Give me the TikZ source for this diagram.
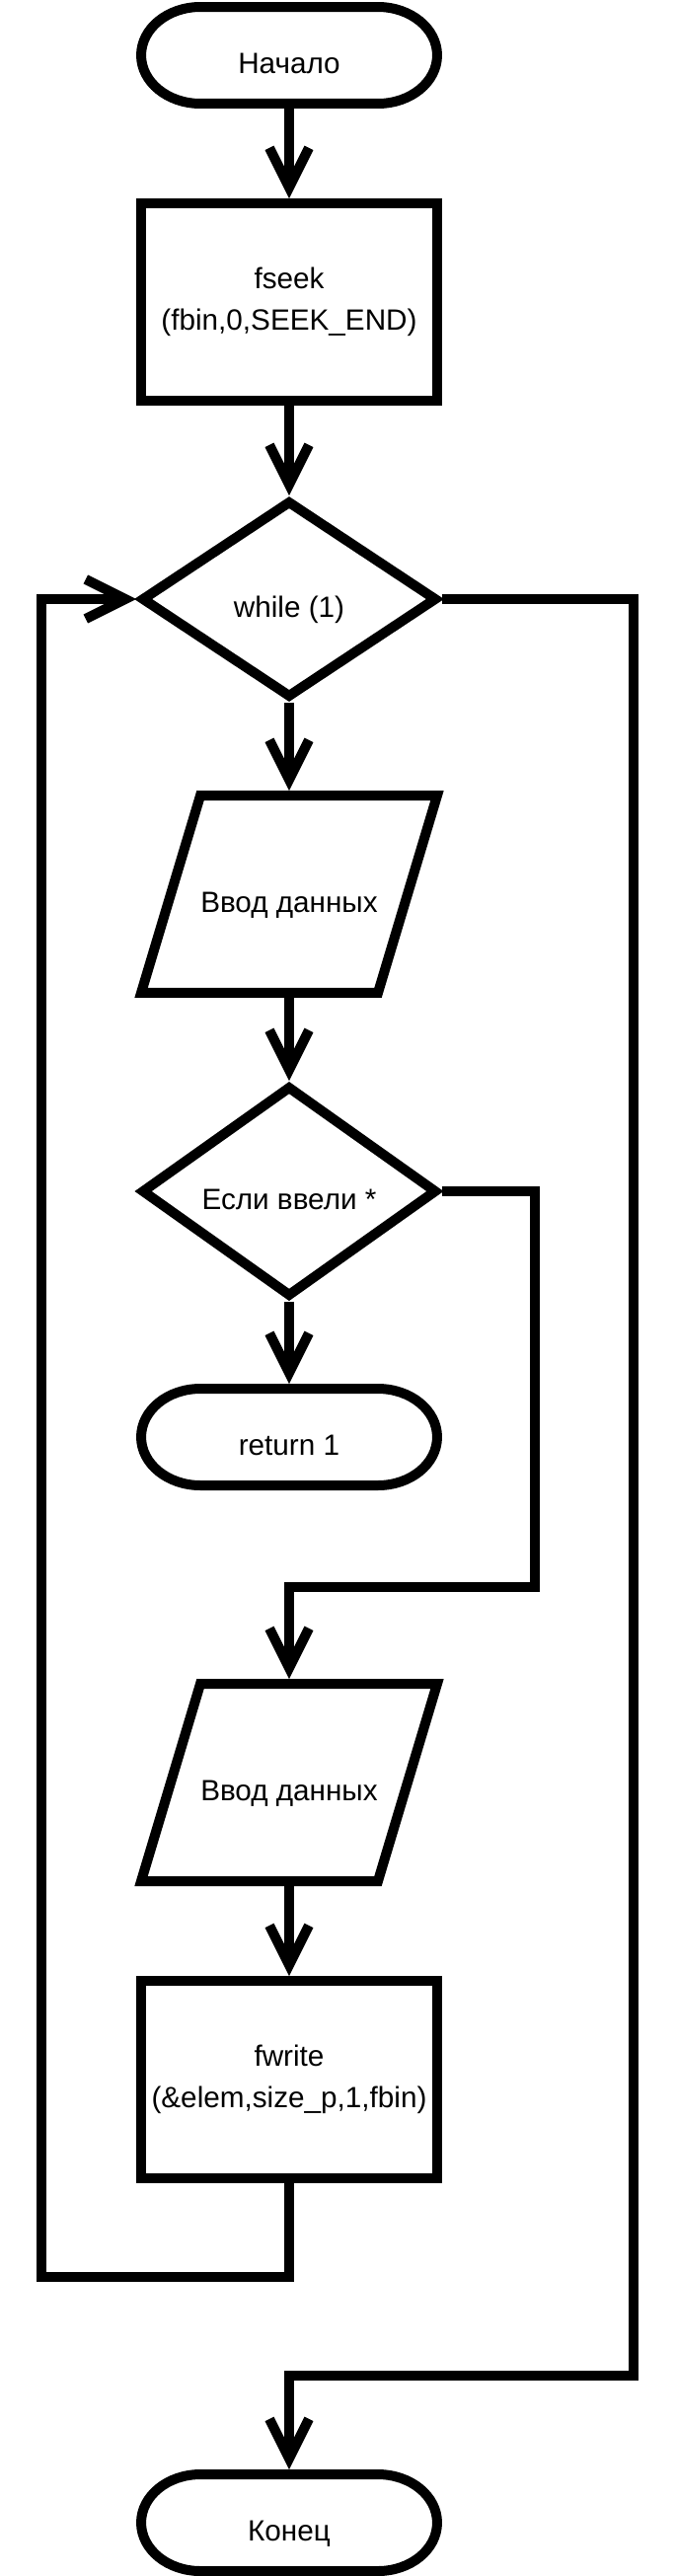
\documentclass[tikz,border=0pt]{standalone}
\usepackage{fontspec}
\setmainfont{Liberation Sans}
\usetikzlibrary{arrows.meta, shapes.geometric, positioning, calc}

\tikzset{
    blk/.style={draw, line width=0.2cm, minimum width=6cm, minimum height=4cm, inner sep=0pt,
        align=center, font=\fontsize{16.9pt}{24pt}\selectfont},
    oneline/.style={text height=0.74cm, text depth=0cm},
    procbox/.style={blk, rectangle},
    condbox/.style={blk, diamond, oneline},
    iobox/.style={blk, draw=none, outer sep=0.1cm, oneline},
    termbox/.style={blk, draw=none, outer sep=0.1cm, minimum height=1.96cm, oneline},
    flow/.style={line width=0.2cm, -{Straight Barb[length=0.8cm,width=0.8cm]}},
    wire/.style={line width=0.2cm}
}

% oval outline round a termbox node
\newcommand{\termline}[1]{%
    \draw[wire] ($(#1.north west)+(1.3cm,-0.1cm)$) -- ($(#1.north east)+(-1.3cm,-0.1cm)$)
        arc[start angle=90, end angle=-90, x radius=1.2cm, y radius=0.98cm]
        -- ($(#1.south west)+(1.3cm,0.1cm)$)
        arc[start angle=270, end angle=90, x radius=1.2cm, y radius=0.98cm] -- cycle;}
% slanted outline round an iobox node
\newcommand{\ioline}[1]{%
    \draw[wire] ($(#1.north west)+(1.3cm,-0.1cm)$) -- ($(#1.north east)+(-0.1cm,-0.1cm)$)
        -- ($(#1.south east)+(-1.3cm,0.1cm)$) -- ($(#1.south west)+(0.1cm,0.1cm)$) -- cycle;}

\begin{document}
\begin{tikzpicture}[x=0.02cm, y=-0.02cm]
    \useasboundingbox (0,0) rectangle (685,2610);

    \node[termbox] (start) at (293,56) {Начало};
    \node[procbox] (seek) at (293,306) {fseek\\(fbin,0,SEEK\_END)};
    \node[condbox] (loop) at (293,607) {while (1)};
    \node[iobox] (in1) at (293,906) {Ввод данных};
    \node[condbox] (check) at (293,1207) {Если ввели *};
    \node[termbox] (ret) at (293,1456) {return 1};
    \node[iobox] (in2) at (293,1806) {Ввод данных};
    \node[procbox] (write) at (293,2107) {fwrite\\(\&elem,size\_p,1,fbin)};
    \node[termbox] (stop) at (293,2556) {Конец};

    \termline{start}
    \termline{ret}
    \termline{stop}
    \ioline{in1}
    \ioline{in2}

    \coordinate (r1) at (542,1608);
    \coordinate (b1) at (42,2307);
    \coordinate (e1) at (642,2407);

    \draw[flow] (start) -- (seek);
    \draw[flow] (seek) -- (loop);
    \draw[flow] (loop) -- (in1);
    \draw[flow] (in1) -- (check);
    \draw[flow] (check) -- (ret);
    \draw[flow] (check.east) -| (r1) -| (in2);
    \draw[flow] (in2) -- (write);
    \draw[flow] (write.south) |- (b1) |- (loop.west);
    \draw[flow] (loop.east) -| (e1) -| (stop);
\end{tikzpicture}
\end{document}
